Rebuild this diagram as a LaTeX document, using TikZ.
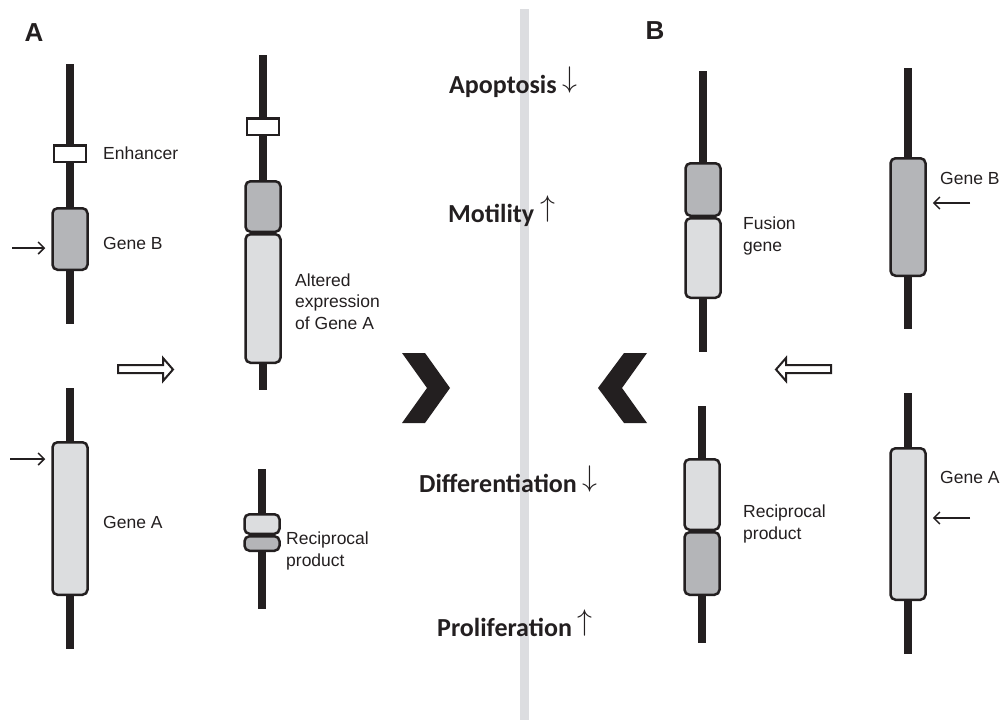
\documentclass[tikz,border=0pt]{standalone}
\usepackage{fontspec}
\setmainfont{Liberation Sans}
\newfontfamily\effectfont{Carlito}
\usetikzlibrary{arrows.meta,positioning}
\definecolor{chromcol}{HTML}{231F20}
\definecolor{darkgene}{HTML}{B4B5B8}
\definecolor{lightgene}{HTML}{DCDDDF}
\definecolor{barcol}{HTML}{DCDDE0}
\newcommand\trendup{ \raisebox{5.5pt}{\scalebox{1.2}{$\uparrow$}}}
\newcommand\trenddown{ \raisebox{5.5pt}{\scalebox{1.2}{$\downarrow$}}}

\begin{document}
\begin{tikzpicture}[x=1pt,y=-1pt,
    chrom/.style={draw=chromcol,line width=8pt},
    gene/.style={draw=chromcol,line width=2.5pt,rounded corners=5pt,%
        inner sep=0pt,minimum width=35pt},
    dark/.style={gene,fill=darkgene},
    light/.style={gene,fill=lightgene},
    enh/.style={draw=chromcol,fill=white,line width=2.5pt,inner sep=0pt,%
        minimum width=32pt,minimum height=16.5pt},
    lbl/.style={anchor=west,align=left,inner sep=0pt,text=chromcol,%
        font=\fontsize{17.5}{21.5}\selectfont},
    effect/.style={anchor=base west,inner sep=0pt,text=chromcol,%
        font=\effectfont\bfseries\fontsize{26}{30}\selectfont},
    pointer/.style={-{Straight Barb[length=6pt,width=12pt]},line width=1.5pt,%
        draw=chromcol,shorten >=6pt},
    hollow/.style={draw=chromcol,line width=2pt,fill=white},
    panel/.style={text=chromcol,font=\bfseries\fontsize{26}{30}\selectfont}]
    \useasboundingbox (0,0) rectangle (1004,720);
    \fill[barcol] (520,9) rectangle (529,720);

    % panel A
    \node[panel] (pA) at (34,33) {A};

    \coordinate (a1t) at (70,64);
    \coordinate (a1b) at (70,324);
    \draw[chrom] (a1t) -- (a1b);
    \node[enh]                       (enh_a)  at (70,153.5) {};
    \node[dark,minimum height=61.5pt] (gB_a)  at (70,239)   {};
    \node[lbl] (l_enh_a) at (103,153.5) {Enhancer};
    \node[lbl] (l_gB_a)  at (103,243)   {Gene B};
    \coordinate (pB_a) at (12,248);
    \draw[pointer] (pB_a) -- (gB_a.west |- pB_a);

    \coordinate (a2t) at (70,388);
    \coordinate (a2b) at (70,649);
    \draw[chrom] (a2t) -- (a2b);
    \node[light,minimum height=152.5pt] (gA_a) at (70,518.5) {};
    \node[lbl] (l_gA_a) at (103,522) {Gene A};
    \coordinate (pA_a) at (10,459);
    \draw[pointer] (pA_a) -- (gA_a.west |- pA_a);

    \draw[hollow] (118,365) -- (163,365) -- (163,358) -- (173,369.5)
        -- (163,381) -- (163,373) -- (118,373) -- cycle;

    \coordinate (a3t) at (263,55);
    \coordinate (a3b) at (263,390);
    \draw[chrom] (a3t) -- (a3b);
    \node[enh]                        (enh_t) at (263,126.5) {};
    \node[dark,minimum height=50.5pt] (alt_B) at (263,206.5) {};
    \node[light,minimum height=128.5pt] (alt_A) [below=0pt of alt_B] {};
    \node[lbl] (l_alt) at (295,301.5) {Altered\\expression\\of Gene A};

    \coordinate (a4t) at (262,469);
    \coordinate (a4b) at (262,609);
    \draw[chrom] (a4t) -- (a4b);
    \node[light,minimum height=19.5pt] (rec_a1) at (262,524) {};
    \node[dark,minimum height=14.5pt]  (rec_a2) [below=0pt of rec_a1] {};
    \node[lbl] (l_rec_a) at (286,551) {Reciprocal\\product};

    % centre
    \fill[chromcol] (402,353) -- (425,353) -- (450,388) -- (425,423)
        -- (402,423) -- (427,388) -- cycle;
    \fill[chromcol] (647,353) -- (624,353) -- (598,388) -- (624,423)
        -- (647,423) -- (622,388) -- cycle;
    \node[effect] (apop)   at (449,93)  {Apoptosis\trenddown};
    \node[effect] (motil)  at (448,222) {Motility\trendup};
    \node[effect] (diff)   at (419,492) {Differentiation\trenddown};
    \node[effect] (prolif) at (437,636) {Proliferation\trendup};

    % panel B
    \node[panel] (pB) at (655,31) {B};

    \coordinate (b1t) at (703,71);
    \coordinate (b1b) at (703,352);
    \draw[chrom] (b1t) -- (b1b);
    \node[dark,minimum height=52.5pt]  (fus_B) at (703,189.5) {};
    \node[light,minimum height=79.5pt] (fus_A) [below=0pt of fus_B] {};
    \node[lbl] (l_fus) at (743,236) {Fusion\\gene};

    \coordinate (b2t) at (702,406);
    \coordinate (b2b) at (702,643);
    \draw[chrom] (b2t) -- (b2b);
    \node[light,minimum height=70.5pt] (rec_b1) at (702,494.5) {};
    \node[dark,minimum height=62.5pt]  (rec_b2) [below=0pt of rec_b1] {};
    \node[lbl] (l_rec_b) at (743,524) {Reciprocal\\product};

    \draw[hollow] (831,365) -- (786,365) -- (786,358) -- (776,369.5)
        -- (786,381) -- (786,373) -- (831,373) -- cycle;

    \coordinate (b3t) at (908,68);
    \coordinate (b3b) at (908,329);
    \draw[chrom] (b3t) -- (b3b);
    \node[dark,minimum height=117.5pt] (gB_b) at (908,217) {};
    \node[lbl] (l_gB_b) at (940,178) {Gene B};
    \coordinate (pB_b) at (970,203);
    \draw[pointer] (pB_b) -- (gB_b.east |- pB_b);

    \coordinate (b4t) at (908,393);
    \coordinate (b4b) at (908,654);
    \draw[chrom] (b4t) -- (b4b);
    \node[light,minimum height=151.5pt] (gA_b) at (908,524) {};
    \node[lbl] (l_gA_b) at (940,477) {Gene A};
    \coordinate (pA_b) at (970,518);
    \draw[pointer] (pA_b) -- (gA_b.east |- pA_b);
\end{tikzpicture}
\end{document}
